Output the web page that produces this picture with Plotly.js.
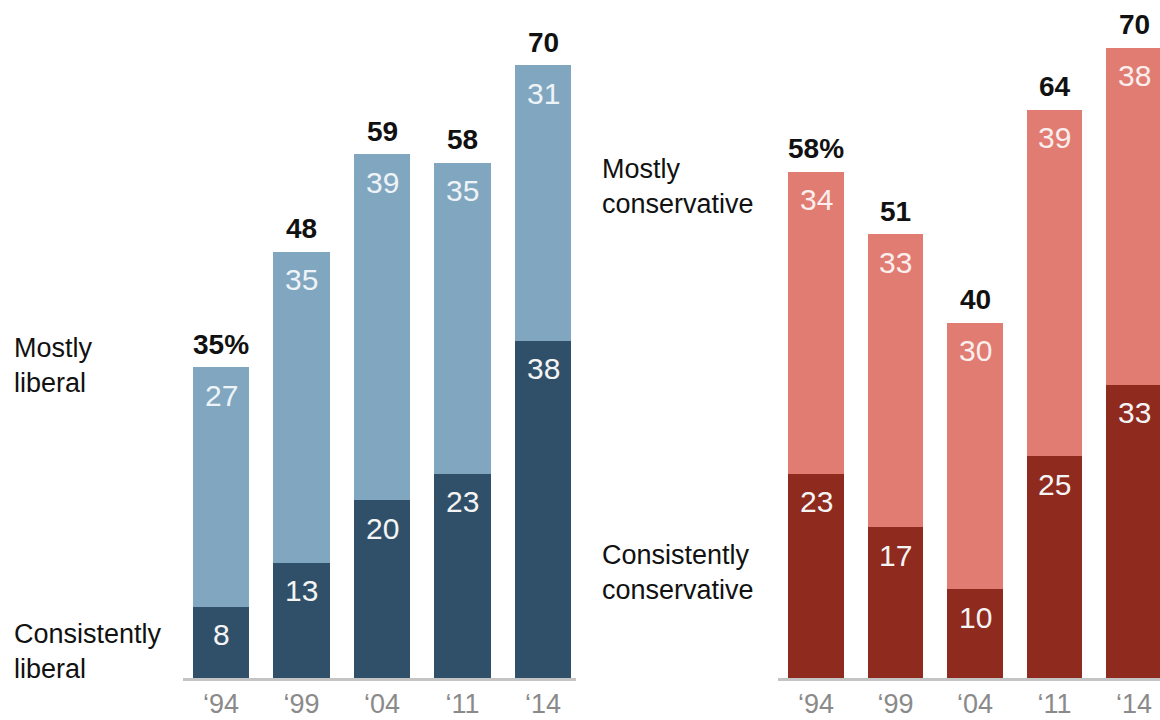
<!DOCTYPE html>
<html>
<head>
<meta charset="utf-8">
<script src="https://cdn.plot.ly/plotly-3.0.1.min.js"></script>
<style>html,body{margin:0;padding:0;background:#fff;}#chart{width:1160px;height:720px;}</style>
</head>
<body>
<div id="chart"></div>
<script>
// ---- data ----
const years = ["‘94", "‘99", "‘04", "‘11", "‘14"];
const consistentlyLiberal = [8, 13, 20, 23, 38];
const mostlyLiberal = [27, 35, 39, 35, 31];
const totalLiberal = ["35%", "48", "59", "58", "70"];
const consistentlyConservative = [23, 17, 10, 25, 33];
const mostlyConservative = [34, 33, 30, 39, 38];
const totalConservative = ["58%", "51", "40", "64", "70"];

// ---- styles ----
const FONT = "Liberation Sans, Arial, sans-serif";
const C = {
  libDark: "#30506a", libLight: "#80a6c0",
  conDark: "#8e2a1e", conLight: "#e07c72"
};
const W = 1160, PH = 678;

function bar(x, y, color, xa, ya) {
  return {type: "bar", x: x, y: y, xaxis: xa, yaxis: ya, width: 0.7,
    marker: {color: color, line: {width: 0}}, hoverinfo: "skip", showlegend: false};
}

const traces = [
  bar(years, consistentlyLiberal, C.libDark, "x", "y"),
  bar(years, mostlyLiberal, C.libLight, "x", "y"),
  bar(years, consistentlyConservative, C.conDark, "x2", "y2"),
  bar(years, mostlyConservative, C.conLight, "x2", "y2")
];

const ann = [];
function segLabels(bottom, top, totals, xa, ya, lightColor) {
  years.forEach((yr, i) => {
    ann.push({x: yr, y: bottom[i], xref: xa, yref: ya, text: String(bottom[i]),
      showarrow: false, yanchor: "middle", yshift: -28,
      font: {family: FONT, size: 30, color: "#f4f4f4"}});
    const stack = bottom[i] + top[i];
    ann.push({x: yr, y: stack, xref: xa, yref: ya, text: String(top[i]),
      showarrow: false, yanchor: "middle", yshift: -28,
      font: {family: FONT, size: 30, color: lightColor}});
    ann.push({x: yr, y: stack, xref: xa, yref: ya, text: "<b>" + totals[i] + "</b>",
      showarrow: false, yanchor: "middle", yshift: 23,
      font: {family: FONT, size: 28, color: "#111111"}});
  });
}
segLabels(consistentlyLiberal, mostlyLiberal, totalLiberal, "x", "y", "#eef3f7");
segLabels(consistentlyConservative, mostlyConservative, totalConservative, "x2", "y2", "#fbeeec");

function sideLabel(text, px, py) {
  ann.push({xref: "paper", yref: "paper", x: px / W, y: (PH - py) / PH, text: text,
    showarrow: false, xanchor: "left", yanchor: "middle", align: "left",
    font: {family: FONT, size: 27, color: "#111111"}});
}
sideLabel("Mostly<br>liberal", 12, 365);
sideLabel("Consistently<br>liberal", 12, 651);
sideLabel("Mostly<br>conservative", 600, 186);
sideLabel("Consistently<br>conservative", 600, 572);

const xCommon = {
  type: "category", showgrid: false, zeroline: false,
  showline: true, linecolor: "#c4c4c4", linewidth: 3,
  ticks: "", ticklen: 0, tickfont: {family: FONT, size: 27, color: "#8a8a8a"},
  fixedrange: true
};
const yCommon = {range: [0, PH / 8.88], visible: false, showgrid: false, zeroline: false, fixedrange: true};

const layout = {
  width: 1160, height: 720,
  margin: {l: 0, r: 0, t: 0, b: 42, pad: 0},
  paper_bgcolor: "#ffffff", plot_bgcolor: "#ffffff",
  barmode: "stack", showlegend: false,
  xaxis: Object.assign({}, xCommon, {domain: [183 / W, 576 / W], range: [-0.472, 4.41], anchor: "y"}),
  yaxis: Object.assign({}, yCommon, {anchor: "x"}),
  xaxis2: Object.assign({}, xCommon, {domain: [778 / W, 1], range: [-0.478, 4.327], anchor: "y2"}),
  yaxis2: Object.assign({}, yCommon, {anchor: "x2"}),
  annotations: ann
};

Plotly.newPlot("chart", traces, layout, {displayModeBar: false, staticPlot: true});
</script>
</body>
</html>
